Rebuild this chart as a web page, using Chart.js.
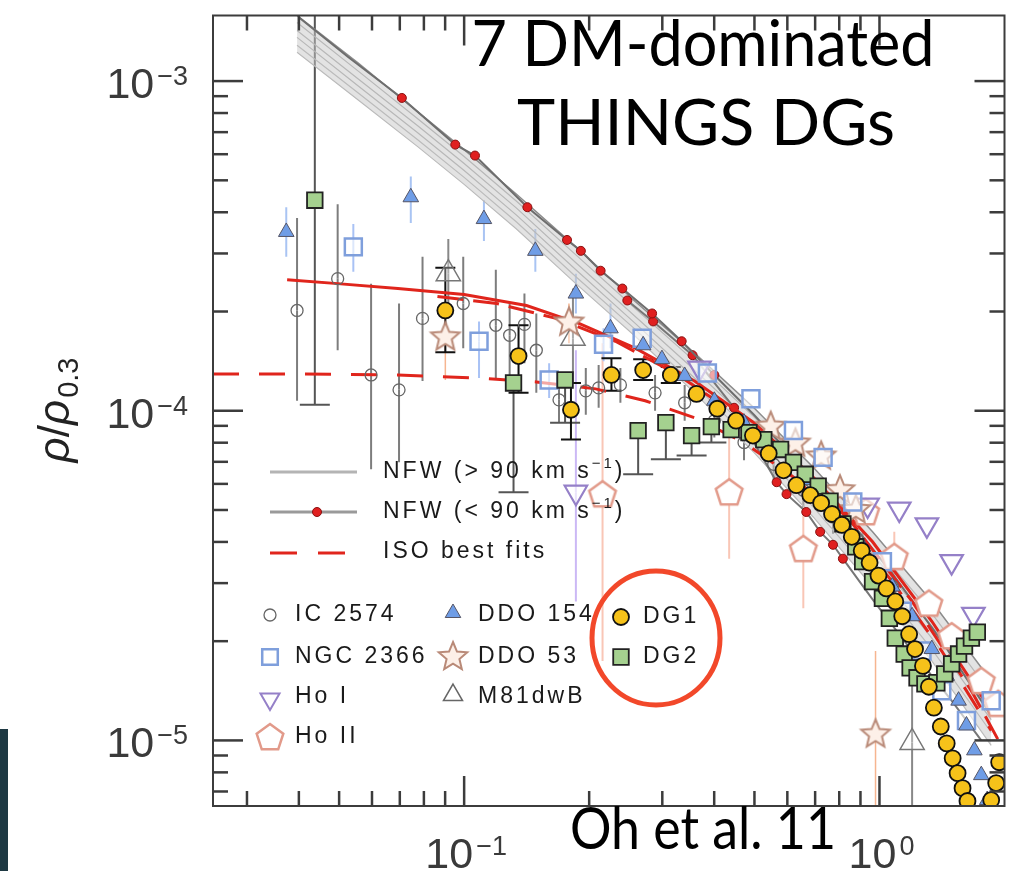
<!DOCTYPE html>
<html>
<head>
<meta charset="utf-8">
<script src="https://cdn.jsdelivr.net/npm/chart.js@4.4.1/dist/chart.umd.min.js"></script>
<style>
  html, body { margin: 0; padding: 0; background: #fff; overflow: hidden; }
  #wrap { position: relative; width: 1020px; height: 871px; }
</style>
</head>
<body>
<div id="wrap"><canvas id="plot" width="1020" height="871"></canvas></div>
<script>
// 축 범위 (로그-로그)
const xMin = 0.02485, xMax = 2.0;
const yMin = 6.325e-6, yMax = 1.581e-3;

// 눈금 라벨
const xLabelVals = [0.1, 1];
const xLabelExp = ['\u22121', '0'];
const yLabelVals = [1e-3, 1e-4, 1e-5];
const yLabelExp = ['\u22123', '\u22124', '\u22125'];

// DG1 (노란 원)
const dg1R = [0.0901, 0.1352, 0.1808, 0.2263, 0.2698, 0.3145, 0.3626, 0.4069, 0.4516, 0.4958, 0.5412, 0.5875, 0.631, 0.6813, 0.7237, 0.7687, 0.812, 0.8577, 0.906, 0.9467, 0.9945, 1.0392, 1.0916, 1.1344, 1.1787, 1.218, 1.2726, 1.315, 1.352, 1.4049, 1.4517, 1.5004, 1.542, 1.5849, 1.6288, 1.8578, 1.9099, 1.9416];
const dg1Rho = [2.015e-4, 1.465e-4, 1.007e-4, 1.284e-4, 1.329e-4, 1.284e-4, 1.125e-4, 1.014e-4, 9.33e-5, 8.408e-5, 7.423e-5, 6.598e-5, 5.946e-5, 5.546e-5, 5.247e-5, 4.862e-5, 4.505e-5, 4.146e-5, 3.761e-5, 3.461e-5, 3.162e-5, 2.89e-5, 2.64e-5, 2.38e-5, 2.1e-5, 1.893e-5, 1.683e-5, 1.455e-5, 1.257e-5, 1.102e-5, 9.795e-6, 8.827e-6, 7.956e-6, 7.166e-6, 6.549e-6, 6.594e-6, 7.423e-6, 8.586e-6];
const dg1Lo = [1.506e-4, 1.133e-4, 8.177e-5, 1.149e-4, 1.24e-4, 1.214e-4];
const dg1Hi = [2.715e-4, 1.816e-4, 1.214e-4, 1.444e-4, 1.434e-4, 1.357e-4];

// DG2 (초록 사각형)
const dg2R = [0.0437, 0.1315, 0.175, 0.2624, 0.306, 0.3529, 0.3938, 0.4394, 0.485, 0.5266, 0.578, 0.6207, 0.6627, 0.7119, 0.7603, 0.8164, 0.8768, 0.911, 0.9624, 1.0165, 1.0564, 1.0916, 1.1468, 1.1852, 1.2315, 1.2865, 1.3745, 1.4359, 1.492, 1.5505, 1.6024, 1.6648, 1.7204];
const dg2Rho = [4.351e-4, 1.214e-4, 1.24e-4, 8.705e-5, 9.202e-5, 8.408e-5, 8.951e-5, 8.765e-5, 8.583e-5, 8.177e-5, 7.63e-5, 6.975e-5, 6.417e-5, 5.904e-5, 5.32e-5, 4.536e-5, 3.867e-5, 3.485e-5, 3.033e-5, 2.696e-5, 2.347e-5, 2.043e-5, 1.828e-5, 1.66e-5, 1.549e-5, 1.485e-5, 1.496e-5, 1.592e-5, 1.706e-5, 1.828e-5, 1.932e-5, 2.043e-5, 2.13e-5];
const dg2Lo = [1.042e-4, 5.662e-5, 9.202e-5, 6.417e-5, 7.121e-5, 7.321e-5, 8.012e-5];
const dg2Hi = [2.0e-3];

// IC 2574
const icR = [0.0396, 0.0496, 0.0597, 0.0697, 0.0794, 0.0995, 0.1192, 0.1287, 0.1397, 0.1492, 0.1692, 0.1963, 0.2108, 0.2378, 0.2882, 0.3396, 0.4003, 0.4719, 0.5563, 0.6556, 0.7729, 0.911, 1.074];
const icRho = [2.015e-4, 2.516e-4, 1.284e-4, 1.157e-4, 1.906e-4, 2.115e-4, 1.816e-4, 1.694e-4, 1.828e-4, 1.526e-4, 1.079e-4, 1.149e-4, 1.173e-4, 1.198e-4, 1.133e-4, 1.057e-4, 9.33e-5, 8.012e-5, 6.878e-5, 5.741e-5, 4.762e-5, 3.787e-5, 2.93e-5];
const icLo = [1.072e-4, 1.526e-4, 6.644e-5, 6.975e-5, 1.231e-4, 1.548e-4, 1.24e-4, 1.284e-4, 1.394e-4, 1.133e-4, 9.202e-5, 9.727e-5, 1.021e-4, 1.057e-4, 1.0e-4, 9.33e-5, 8.293e-5, 7.072e-5, 6.157e-5, 5.103e-5, 4.232e-5, 3.343e-5, 2.551e-5];
const icHi = [3.841e-4, 4.231e-4, 2.43e-4, 2.115e-4, 2.931e-4, 2.931e-4, 2.677e-4, 2.115e-4, 2.267e-4, 1.973e-4, 1.257e-4, 1.347e-4, 1.376e-4, 1.347e-4, 1.284e-4, 1.198e-4, 1.057e-4, 9.077e-5, 7.739e-5, 6.506e-5, 5.357e-5, 4.292e-5, 3.366e-5];

// NGC 2366
const ngcR = [0.0541, 0.1086, 0.1602, 0.2166, 0.2683, 0.3852, 0.4904, 0.6207, 0.7316, 0.8625, 1.0165, 1.1344, 1.2656, 1.4125, 1.6198, 1.8578];
const ngcRho = [3.141e-4, 1.625e-4, 1.24e-4, 1.591e-4, 1.66e-4, 1.302e-4, 1.087e-4, 8.705e-5, 7.221e-5, 5.284e-5, 3.485e-5, 2.464e-5, 1.867e-5, 1.415e-5, 1.149e-5, 1.32e-5];
const ngcLo = [2.641e-4, 1.257e-4, 1.094e-4, 1.414e-4];
const ngcHi = [3.685e-4, 1.866e-4, 1.394e-4, 1.778e-4];

// Ho I
const hoIR = [0.1858, 0.3687, 0.9363, 1.1158, 1.3007, 1.492, 1.6831];
const hoIRho = [5.662e-5, 1.347e-4, 5.175e-5, 5.033e-5, 4.505e-5, 3.485e-5, 2.413e-5];
const hoILo = [2.64e-5];
const hoIHi = [1.526e-4];

// Ho II
const hoIIR = [0.2154, 0.4346, 0.6556, 0.9262, 1.0857, 1.315, 1.492, 1.7585, 1.931];
const hoIIRho = [5.585e-5, 5.662e-5, 3.814e-5, 4.93e-5, 3.608e-5, 2.604e-5, 2.072e-5, 1.517e-5, 1.293e-5];
const hoIILo = [1.742e-5, 3.558e-5, 2.516e-5, null, 2.64e-5];
const hoIIHi = [1.602e-4, 8.888e-5, 5.395e-5, null, 4.292e-5];

// DDO 154
const d154R = [0.0373, 0.0744, 0.1116, 0.1484, 0.1858, 0.2251, 0.2698, 0.2994, 0.3396, 0.4003, 0.4719, 0.5563, 0.6556, 0.7729, 0.911, 1.074, 1.1983, 1.3368, 1.4517, 1.5505, 1.6198, 1.6923, 1.7585, 1.8174];
const d154Rho = [3.486e-4, 4.442e-4, 3.815e-4, 3.055e-4, 2.267e-4, 1.778e-4, 1.58e-4, 1.434e-4, 1.275e-4, 1.072e-4, 9.202e-5, 7.58e-5, 6.157e-5, 4.93e-5, 3.867e-5, 2.93e-5, 2.38e-5, 1.893e-5, 1.57e-5, 1.32e-5, 1.11e-5, 9.33e-6, 7.846e-6, 6.594e-6];
const d154Lo = [2.931e-4, 3.711e-4, 3.274e-4, 2.641e-4, 1.973e-4, 1.548e-4];
const d154Hi = [4.144e-4, 5.139e-4, 4.351e-4, 3.558e-4, 2.604e-4, 2.115e-4];

// DDO 53
const d53R = [0.0901, 0.1788, 0.5472, 0.6275, 0.7237, 0.8032, 0.8768, 0.9784];
const d53Rho = [1.682e-4, 1.866e-4, 9.012e-5, 8.012e-5, 7.321e-5, 5.781e-5, 5.033e-5, 1.05e-5];
const d53Lo = [1.24e-4, 1.602e-4, null, null, null, null, null, 6.327e-6];
const d53Hi = [1.973e-4, 2.115e-4, null, null, null, null, null, 1.867e-5];

// M81dwB
const m81R = [0.0916, 0.1828, 1.1983];
const m81Rho = [2.604e-4, 1.66e-4, 9.863e-6];
const m81Lo = [1.973e-4, 1.214e-4, 6.327e-6];
const m81Hi = [3.32e-4, 2.348e-4, 1.742e-5];

// NFW (> 90 km/s) 회색 곡선 묶음
const nfwR = [0.0396, 0.0556, 0.0773, 0.1, 0.1337, 0.1858, 0.2582, 0.3587, 0.4985, 0.6927, 0.9624, 1.3368, 1.8578];
const nfwHi1 = [1.581e-3, 1.133e-3, 8.065e-4, 6.197e-4, 4.535e-4, 3.141e-4, 2.145e-4, 1.495e-4, 1.021e-4, 6.737e-5, 4.292e-5, 2.64e-5, 1.517e-5];
const nfwHi2 = [1.506e-3, 1.072e-3, 7.685e-4, 5.903e-4, 4.32e-4, 2.971e-4, 2.043e-4, 1.414e-4, 9.592e-5, 6.286e-5, 3.975e-5, 2.429e-5, 1.385e-5];
const nfwHi3 = [1.424e-3, 1.014e-3, 7.319e-4, 5.623e-4, 4.117e-4, 2.812e-4, 1.932e-4, 1.329e-4, 9.012e-5, 5.864e-5, 3.683e-5, 2.22e-5, 1.266e-5];
const nfwHi4 = [1.357e-3, 9.658e-4, 6.973e-4, 5.357e-4, 3.922e-4, 2.677e-4, 1.841e-4, 1.257e-4, 8.466e-5, 5.47e-5, 3.412e-5, 2.043e-5, 1.157e-5];
const nfwHi5 = [1.284e-3, 9.204e-4, 6.642e-4, 5.104e-4, 3.736e-4, 2.55e-4, 1.766e-4, 1.198e-4, 7.957e-5, 5.103e-5, 3.162e-5, 1.893e-5, 1.057e-5];
const nfwHi6 = [1.223e-3, 8.767e-4, 6.328e-4, 4.861e-4, 3.558e-4, 2.43e-4, 1.682e-4, 1.133e-4, 7.475e-5, 4.762e-5, 2.93e-5, 1.742e-5, 9.658e-6];

// NFW (< 90 km/s) 빨간 점 곡선
const nfwLoAR = [0.04004, 0.05266, 0.0708, 0.0952, 0.1062, 0.142, 0.1769, 0.191, 0.2131, 0.2404, 0.2835, 0.334, 0.4003, 0.4985, 0.6207, 0.8164, 1.074, 1.4125, 1.8578];
const nfwLoARho = [1.559e-3, 1.181e-3, 8.889e-4, 6.417e-4, 5.944e-4, 4.144e-4, 3.297e-4, 3.055e-4, 2.659e-4, 2.348e-4, 1.973e-4, 1.625e-4, 1.284e-4, 9.727e-5, 7.221e-5, 4.93e-5, 3.206e-5, 2.001e-5, 1.189e-5];
const nfwLoBR = [0.2471, 0.2851, 0.3548, 0.4467, 0.5655, 0.5973, 0.6664, 0.7197, 0.7729, 0.8164, 0.9624, 1.1983, 1.492, 1.7585];
const nfwLoBRho = [2.16e-4, 1.866e-4, 1.474e-4, 1.021e-4, 6.071e-5, 5.585e-5, 4.93e-5, 4.292e-5, 3.921e-5, 3.558e-5, 2.677e-5, 1.867e-5, 1.32e-5, 1.0e-5];

// ISO 최적 맞춤 (빨간 선)
const isoAR = [0.03748, 0.0496, 0.06927, 0.1, 0.1413, 0.1889, 0.2582, 0.3587, 0.4985, 0.6927, 0.9624, 1.3368, 1.8578];
const isoARho = [2.498e-4, 2.43e-4, 2.348e-4, 2.251e-4, 2.086e-4, 1.841e-4, 1.548e-4, 1.231e-4, 9.202e-5, 6.286e-5, 4.003e-5, 2.298e-5, 1.231e-5];
const isoBR = [0.08624, 0.1198, 0.1665, 0.2313, 0.3215, 0.4467, 0.6207, 0.8625, 1.1983, 1.6648, 1.9634];
const isoBRho = [2.22e-4, 2.115e-4, 1.906e-4, 1.625e-4, 1.302e-4, 9.862e-5, 6.975e-5, 4.536e-5, 2.64e-5, 1.415e-5, 9.658e-6];
const isoCR = [0.02485, 0.04004, 0.06927, 0.1074, 0.1492, 0.2073, 0.2728, 0.3587, 0.4719, 0.6207, 0.8164, 1.074, 1.4125, 1.8578];
const isoCRho = [1.293e-4, 1.293e-4, 1.284e-4, 1.257e-4, 1.223e-4, 1.165e-4, 1.072e-4, 9.526e-5, 8.012e-5, 6.286e-5, 4.6e-5, 3.033e-5, 1.867e-5, 1.072e-5];

function pts(xs, ys) { return xs.map((x, i) => ({ x: x, y: ys[i] })); }

// 별, 오각형 마커 이미지
function starImage(r, fill, stroke) {
    const s = Math.ceil(2 * r + 6), c = document.createElement('canvas');
    c.width = c.height = s;
    const g = c.getContext('2d');
    g.beginPath();
    for (let k = 0; k < 10; k++) {
        const a = -Math.PI / 2 + k * Math.PI / 5, rr = k % 2 ? r * 0.45 : r;
        g.lineTo(s / 2 + rr * Math.cos(a), s / 2 + 1 + rr * Math.sin(a));
    }
    g.closePath(); g.fillStyle = fill; g.fill();
    g.lineWidth = 2; g.strokeStyle = stroke; g.stroke();
    return c;
}
function pentImage(r, fill, stroke) {
    const s = Math.ceil(2 * r + 6), c = document.createElement('canvas');
    c.width = c.height = s;
    const g = c.getContext('2d');
    g.beginPath();
    for (let k = 0; k < 5; k++) {
        const a = -Math.PI / 2 + k * 2 * Math.PI / 5;
        g.lineTo(s / 2 + r * Math.cos(a), s / 2 + 1 + r * Math.sin(a));
    }
    g.closePath(); g.fillStyle = fill; g.fill();
    g.lineWidth = 2.5; g.strokeStyle = stroke; g.stroke();
    return c;
}
const starImg = starImage(15, '#fdf0e8', '#b98a78');
const pentImg = pentImage(14, '#ffffff', '#e29a8a');

function errSet(lo, hi, color, width, cap) {
    return { errLo: lo, errHi: hi, errColor: color, errWidth: width, errCap: cap };
}

// 에러바 플러그인
const errorBars = {
    id: 'errorBars',
    beforeDatasetsDraw(chart) {
        const ctx = chart.ctx, a = chart.chartArea, ys = chart.scales.y;
        ctx.save();
        ctx.beginPath(); ctx.rect(a.left, a.top, a.right - a.left, a.bottom - a.top); ctx.clip();
        chart.data.datasets.slice().reverse().forEach(ds => {
            if (!ds.errLo && !ds.errHi) return;
            const meta = chart.getDatasetMeta(chart.data.datasets.indexOf(ds));
            ctx.strokeStyle = ds.errColor; ctx.lineWidth = ds.errWidth;
            meta.data.forEach((p, i) => {
                const ends = [];
                if (ds.errLo && ds.errLo[i] != null) ends.push(ys.getPixelForValue(ds.errLo[i]));
                if (ds.errHi && ds.errHi[i] != null) ends.push(ys.getPixelForValue(ds.errHi[i]));
                ends.forEach(e => {
                    ctx.beginPath(); ctx.moveTo(p.x, p.y); ctx.lineTo(p.x, e); ctx.stroke();
                    if (ds.errCap) {
                        ctx.beginPath(); ctx.moveTo(p.x - ds.errCap, e); ctx.lineTo(p.x + ds.errCap, e); ctx.stroke();
                    }
                });
            });
        });
        ctx.restore();
    }
};

// 글자 그리기 도우미
function fitText(ctx, text, cx, base, font, w) {
    ctx.save();
    ctx.font = font;
    const m = ctx.measureText(text).width;
    ctx.translate(cx, base); ctx.scale(w / m, 1);
    ctx.textAlign = 'center'; ctx.textBaseline = 'alphabetic';
    ctx.fillText(text, 0, 0);
    ctx.restore();
}
function richText(ctx, parts, x, y) {
    // parts: [텍스트, 글꼴크기, 기준선 이동]
    ctx.save();
    ctx.textBaseline = 'middle'; ctx.textAlign = 'left';
    try { ctx.letterSpacing = '3px'; } catch (e) {}
    parts.forEach(p => {
        ctx.font = p[1] + 'px "Liberation Sans", Arial, sans-serif';
        ctx.fillText(p[0], x, y + p[2]);
        x += ctx.measureText(p[0]).width;
    });
    ctx.restore();
}
function powLabel(ctx, exp, x, base, align) {
    ctx.save();
    ctx.fillStyle = '#3a3a3a'; ctx.textBaseline = 'alphabetic'; ctx.textAlign = 'left';
    ctx.font = '43px "Liberation Sans", Arial, sans-serif';
    const w1 = ctx.measureText('10').width;
    ctx.font = '27px "Liberation Sans", Arial, sans-serif';
    const w2 = ctx.measureText(exp).width;
    const total = w1 + 3 + w2;
    const x0 = align === 'right' ? x - total : x - total / 2;
    ctx.font = '43px "Liberation Sans", Arial, sans-serif';
    ctx.fillText('10', x0, base);
    ctx.font = '27px "Liberation Sans", Arial, sans-serif';
    ctx.fillText(exp, x0 + w1 + 3, base - 13);
    ctx.restore();
}

// 축 틀, 눈금, 범례, 주석
const decor = {
    id: 'decor',
    afterDatasetsDraw(chart) {
        const ctx = chart.ctx, a = chart.chartArea, xs = chart.scales.x, ys = chart.scales.y;
        ctx.save();
        ctx.strokeStyle = '#3c3c3c'; ctx.lineWidth = 2.5;
        const seg = (x1, y1, x2, y2) => { ctx.beginPath(); ctx.moveTo(x1, y1); ctx.lineTo(x2, y2); ctx.stroke(); };
        for (let e = -2; e <= 0; e++) for (let m = 1; m <= 9; m++) {
            const v = m * Math.pow(10, e);
            if (v <= xMin || v >= xMax) continue;
            const px = xs.getPixelForValue(v), len = m === 1 ? 30 : 15;
            seg(px, a.bottom, px, a.bottom - len);
            seg(px, a.top, px, a.top + len);
        }
        for (let e = -6; e <= -3; e++) for (let m = 1; m <= 9; m++) {
            const v = m * Math.pow(10, e);
            if (v <= yMin || v >= yMax) continue;
            const py = ys.getPixelForValue(v), len = m === 1 ? 30 : 15;
            seg(a.left, py, a.left + len, py);
            seg(a.right, py, a.right - len, py);
        }
        ctx.lineWidth = 2;
        ctx.strokeRect(a.left, a.top, a.right - a.left, a.bottom - a.top);
        ctx.restore();

        // 눈금 라벨
        xLabelVals.forEach((v, i) => powLabel(ctx, xLabelExp[i], xs.getPixelForValue(v) + 2, 868, 'center'));
        yLabelVals.forEach((v, i) => powLabel(ctx, yLabelExp[i], 188, ys.getPixelForValue(v) + 17, 'right'));

        // 세로축 제목
        ctx.save();
        ctx.translate(69, 410); ctx.rotate(-Math.PI / 2);
        ctx.fillStyle = '#222'; ctx.textBaseline = 'alphabetic';
        const f1 = 'italic 44px "Liberation Sans", Arial, sans-serif';
        const f2 = '44px "Liberation Sans", Arial, sans-serif';
        const f3 = '29px "Liberation Sans", Arial, sans-serif';
        ctx.font = f1; const wr = ctx.measureText('\u03c1').width;
        ctx.font = f2; const ws = ctx.measureText('/').width;
        ctx.font = f3; const wsub = ctx.measureText('0.3').width;
        let tx = -(2 * wr + ws + wsub + 2) / 2;
        ctx.font = f1; ctx.fillText('\u03c1', tx, 0); tx += wr;
        ctx.font = f2; ctx.fillText('/', tx, 0); tx += ws;
        ctx.font = f1; ctx.fillText('\u03c1', tx, 0); tx += wr + 2;
        ctx.font = f3; ctx.fillText('0.3', tx, 9);
        ctx.restore();

        // 선 범례
        ctx.save();
        ctx.lineWidth = 3;
        ctx.strokeStyle = '#b4b4b4'; seg(270, 472, 357, 472);
        ctx.strokeStyle = '#9a9a9a'; seg(270, 512, 357, 512);
        ctx.fillStyle = '#e02020'; ctx.strokeStyle = '#8a1010'; ctx.lineWidth = 1;
        ctx.beginPath(); ctx.arc(317, 512, 4.5, 0, Math.PI * 2); ctx.fill(); ctx.stroke();
        ctx.strokeStyle = '#e0251c'; ctx.lineWidth = 3;
        seg(270, 553, 297, 553); seg(318, 553, 345, 553);
        ctx.fillStyle = '#1a1a1a';
        richText(ctx, [['NFW (> 90 km s', 23, 0], ['\u22121', 15, -8], [')', 23, 0]], 383, 472);
        richText(ctx, [['NFW (< 90 km s', 23, 0], ['\u22121', 15, -8], [')', 23, 0]], 383, 512);
        richText(ctx, [['ISO best fits', 23, 0]], 383, 552);
        ctx.restore();

        // 기호 범례
        const H = Chart.helpers;
        const mk = (style, r, rot, fill, stroke, bw, x, y) => {
            ctx.save();
            ctx.fillStyle = fill; ctx.strokeStyle = stroke; ctx.lineWidth = bw;
            H.drawPoint(ctx, { pointStyle: style, radius: r, rotation: rot, borderWidth: bw }, x, y);
            ctx.restore();
        };
        mk('circle', 6, 0, 'rgba(0,0,0,0)', '#666', 1.3, 270, 615);
        mk('rect', 11, 0, '#ffffff', '#7f9fdc', 2.5, 270, 657);
        mk('triangle', 11, 180, '#ffffff', '#9580c8', 2, 270, 699);
        mk(pentImg, 12, 0, '#fff', '#000', 0, 270, 737);
        mk('triangle', 9, 0, '#6f9de6', '#556', 1, 453, 613);
        mk(starImg, 12, 0, '#fff', '#000', 0, 453, 656);
        mk('triangle', 11, 0, 'rgba(0,0,0,0)', '#666', 1.5, 453, 695);
        mk('circle', 8, 0, '#f6c21a', '#111', 1.8, 621, 617);
        mk('rect', 11, 0, '#a5d18f', '#222', 1.8, 621, 657);
        ctx.fillStyle = '#1a1a1a';
        richText(ctx, [['IC 2574', 23, 0]], 295, 615);
        richText(ctx, [['NGC 2366', 23, 0]], 295, 657);
        richText(ctx, [['Ho I', 23, 0]], 295, 697);
        richText(ctx, [['Ho II', 23, 0]], 295, 737);
        richText(ctx, [['DDO 154', 23, 0]], 478, 615);
        richText(ctx, [['DDO 53', 23, 0]], 478, 657);
        richText(ctx, [['M81dwB', 23, 0]], 478, 697);
        richText(ctx, [['DG1', 23, 0]], 643, 617);
        richText(ctx, [['DG2', 23, 0]], 643, 657);

        // 주석 글씨
        ctx.fillStyle = '#000';
        fitText(ctx, '7 DM-dominated', 703, 66, '64px Lato, "Open Sans", sans-serif', 463);
        fitText(ctx, 'THINGS DGs', 706, 145, '64px Lato, "Open Sans", sans-serif', 378);
        fitText(ctx, 'Oh et al. 11', 703, 849, '58px Lato, "Open Sans", sans-serif', 266);

        // 빨간 원
        ctx.save();
        ctx.strokeStyle = '#f2482a'; ctx.lineWidth = 5;
        ctx.beginPath(); ctx.ellipse(656, 638, 64, 67, 0, 0, Math.PI * 2); ctx.stroke();
        ctx.restore();

        // 왼쪽 아래 슬라이드 조각
        ctx.fillStyle = '#1e3943';
        ctx.fillRect(0, 729, 8, 142);
    }
};

const lineDs = (label, xs, ys, color, width, dash, extra) => Object.assign({
    type: 'line', label: label, data: pts(xs, ys),
    borderColor: color, borderWidth: width, borderDash: dash || [],
    pointRadius: 0, fill: false, tension: 0
}, extra || {});

const data = {
    datasets: [
        Object.assign({ type: 'scatter', label: 'DG1', data: pts(dg1R, dg1Rho), pointStyle: 'circle', pointRadius: 8,
            backgroundColor: '#f6c21a', borderColor: '#111', borderWidth: 1.8 }, errSet(dg1Lo, dg1Hi, '#111', 2, 10)),
        Object.assign({ type: 'scatter', label: 'DG2', data: pts(dg2R, dg2Rho), pointStyle: 'rect', pointRadius: 11,
            backgroundColor: '#a5d18f', borderColor: '#222', borderWidth: 1.8 }, errSet(dg2Lo, dg2Hi, '#555', 2, 15)),
        Object.assign({ type: 'scatter', label: 'DDO 154', data: pts(d154R, d154Rho), pointStyle: 'triangle', pointRadius: 9,
            backgroundColor: '#6f9de6', borderColor: '#556', borderWidth: 1 }, errSet(d154Lo, d154Hi, '#a9c4f3', 2, 0)),
        Object.assign({ type: 'scatter', label: 'NGC 2366', data: pts(ngcR, ngcRho), pointStyle: 'rect', pointRadius: 12,
            backgroundColor: 'rgba(255,255,255,0.6)', borderColor: '#7f9fdc', borderWidth: 2.5 }, errSet(ngcLo, ngcHi, '#a9c2f5', 2, 0)),
        Object.assign({ type: 'scatter', label: 'IC 2574', data: pts(icR, icRho), pointStyle: 'circle', pointRadius: 6,
            backgroundColor: 'rgba(255,255,255,0)', borderColor: '#666', borderWidth: 1.3 }, errSet(icLo, icHi, '#7d7d7d', 2, 0)),
        Object.assign({ type: 'scatter', label: 'DDO 53', data: pts(d53R, d53Rho), pointStyle: starImg, pointRadius: 12 },
            errSet(d53Lo, d53Hi, '#f6b590', 1.5, 0)),
        Object.assign({ type: 'scatter', label: 'M81dwB', data: pts(m81R, m81Rho), pointStyle: 'triangle', pointRadius: 14,
            backgroundColor: 'rgba(255,255,255,0.3)', borderColor: '#777', borderWidth: 1.5 }, errSet(m81Lo, m81Hi, '#888', 2, 0)),
        Object.assign({ type: 'scatter', label: 'Ho I', data: pts(hoIR, hoIRho), pointStyle: 'triangle', pointRotation: 180, pointRadius: 13,
            backgroundColor: 'rgba(255,255,255,0.6)', borderColor: '#9580c8', borderWidth: 2.2 }, errSet(hoILo, hoIHi, '#cbb8f5', 2, 0)),
        Object.assign({ type: 'scatter', label: 'Ho II', data: pts(hoIIR, hoIIRho), pointStyle: pentImg, pointRadius: 12 },
            errSet(hoIILo, hoIIHi, '#f9c6b6', 2, 0)),
        lineDs('ISO A', isoAR, isoARho, '#e0251c', 3),
        lineDs('ISO B', isoBR, isoBRho, '#e0251c', 3, [26, 10]),
        lineDs('ISO C', isoCR, isoCRho, '#e0251c', 3, [26, 20]),
        lineDs('NFW<90 a', nfwLoAR, nfwLoARho, '#6e6e6e', 2, [], {
            pointRadius: [0, 0, 4.5, 4.5, 4.5, 4.5, 4.5, 4.5, 4.5, 4.5, 4.5, 4.5, 4.5, 0, 0, 0, 0, 0, 0],
            pointBackgroundColor: '#e02020', pointBorderColor: '#8a1010', pointBorderWidth: 1 }),
        lineDs('NFW<90 b', nfwLoBR, nfwLoBRho, '#777', 2, [], {
            pointRadius: [4.5, 4.5, 4.5, 4.5, 4.5, 4.5, 4.5, 4.5, 4.5, 4.5, 0, 0, 0, 0],
            pointBackgroundColor: '#e02020', pointBorderColor: '#8a1010', pointBorderWidth: 1 }),
        lineDs('NFW>90 1', nfwR, nfwHi1, '#8c8c8c', 1.5, [], { fill: '+5', backgroundColor: 'rgba(200,200,200,0.5)' }),
        lineDs('NFW>90 2', nfwR, nfwHi2, '#a8a8a8', 1.2),
        lineDs('NFW>90 3', nfwR, nfwHi3, '#a8a8a8', 1.2),
        lineDs('NFW>90 4', nfwR, nfwHi4, '#a8a8a8', 1.2),
        lineDs('NFW>90 5', nfwR, nfwHi5, '#b0b0b0', 1.2),
        lineDs('NFW>90 6', nfwR, nfwHi6, '#b8b8b8', 1.2)
    ]
};

const config = {
    type: 'scatter',
    data: data,
    options: {
        responsive: false,
        animation: false,
        events: [],
        devicePixelRatio: 1,
        layout: { padding: { top: 10, right: 6.5, left: 0, bottom: 0 } },
        plugins: { legend: { display: false }, tooltip: { enabled: false } },
        scales: {
            x: {
                type: 'logarithmic', min: xMin, max: xMax,
                ticks: { display: false }, grid: { display: false }, border: { display: false },
                afterFit: s => { s.height = 65; }
            },
            y: {
                type: 'logarithmic', min: yMin, max: yMax,
                ticks: { display: false }, grid: { display: false }, border: { display: false },
                afterFit: s => { s.width = 213; }
            }
        }
    },
    plugins: [errorBars, decor]
};

const rhoChart = new Chart(document.getElementById('plot'), config);
</script>
</body>
</html>
